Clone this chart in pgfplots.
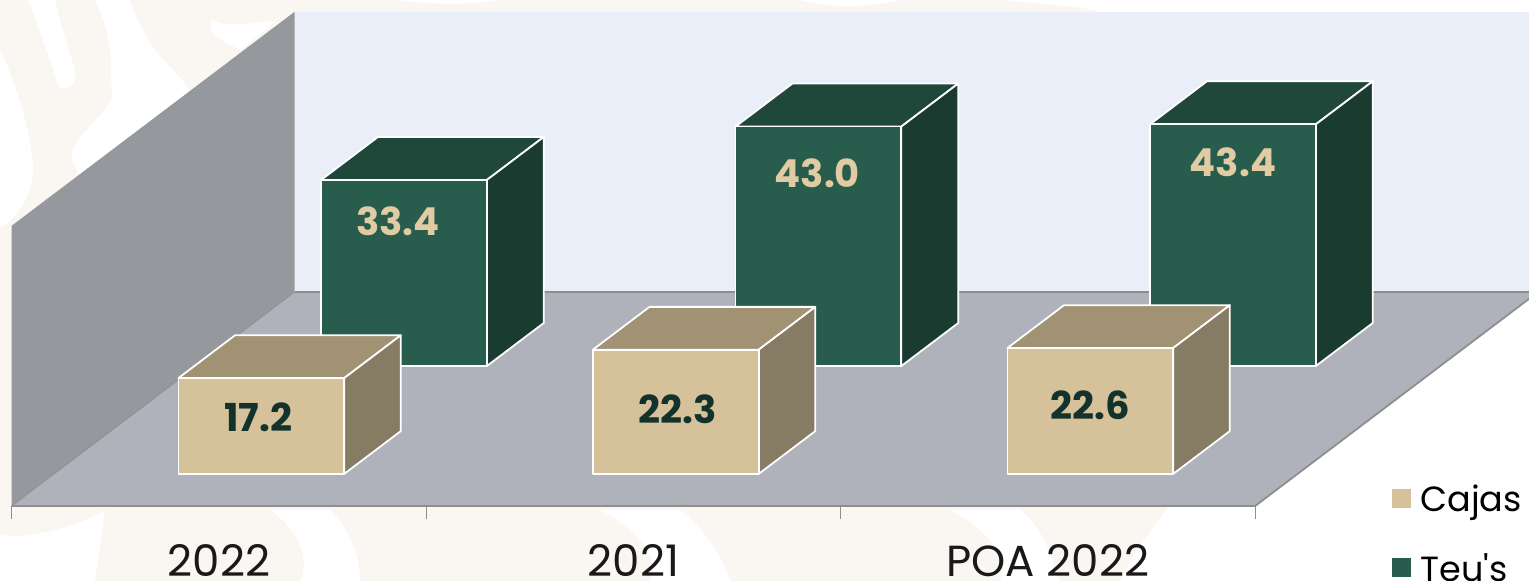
\documentclass[border=0pt]{standalone}
\usepackage{fontspec}
\setmainfont{Poppins}
\newfontfamily\plainfont{Poppins}
\usepackage{pgfplots}
\pgfplotsset{compat=1.18}
\definecolor{cream}{HTML}{FAF7F2}
\definecolor{backw}{HTML}{EAEEF9}
\definecolor{leftw}{HTML}{95989C}
\definecolor{floorw}{HTML}{AFB2BA}
\definecolor{edgeg}{HTML}{8E8E8E}
\definecolor{tanF}{HTML}{D5C19A}
\definecolor{tanT}{HTML}{A09272}
\definecolor{tanS}{HTML}{867B63}
\definecolor{grnF}{HTML}{285C4D}
\definecolor{grnT}{HTML}{1F483B}
\definecolor{grnS}{HTML}{1A3B30}
\definecolor{lblT}{HTML}{E0CBA3}
\definecolor{lblD}{HTML}{13322B}
\begin{document}
\begin{tikzpicture}[x=1pt,y=1pt]
\useasboundingbox (0,0) rectangle (1529,581);
\clip (0,0) rectangle (1529,581);
% faint background ornament
\begin{scope}[yscale=-1,yshift=-581pt]
\fill[cream] (0,0) -- (1000,0) .. controls (1060,5) and (1090,8) .. (1100,12) -- (300,300) -- (1170,506) .. controls (1150,530) and (1130,560) .. (1120,581) -- (0,581) -- cycle;
\fill[white] (95,0) .. controls (115,40) and (110,70) .. (112,100) .. controls (95,125) and (70,140) .. (72,160) -- (80,178) -- (190,92) .. controls (180,70) and (150,60) .. (130,0) -- cycle;
\fill[white] (28,0) .. controls (40,30) and (50,60) .. (58,85) .. controls (70,95) and (80,80) .. (72,60) .. controls (65,40) and (60,20) .. (55,0) -- cycle;
\fill[white] (0,50) .. controls (15,80) and (30,130) .. (33,165) .. controls (33,195) and (20,215) .. (0,228) -- cycle;
\fill[white] (212,20) .. controls (235,30) and (255,20) .. (275,22) -- (240,50) .. controls (225,42) and (205,35) .. (212,20) -- cycle;
\fill[white] (0,535) .. controls (40,540) and (90,520) .. (105,510) -- (95,581) -- (0,581) -- cycle;
\fill[white] (270,510) .. controls (300,530) and (310,560) .. (300,581) -- (360,581) .. controls (360,550) and (345,525) .. (330,510) -- cycle;
\fill[white] (600,510) .. controls (640,530) and (660,560) .. (650,581) -- (730,581) .. controls (720,550) and (700,525) .. (680,510) -- cycle;
\fill[white] (950,510) .. controls (990,530) and (1010,560) .. (1000,581) -- (1060,581) .. controls (1050,550) and (1040,525) .. (1020,510) -- cycle;
\fill[white] (400,0) .. controls (430,5) and (470,5) .. (500,0) -- cycle;
\fill[white] (800,0) .. controls (830,8) and (870,8) .. (900,0) -- cycle;
\end{scope}
\begin{axis}[
  at={(11.6pt,75pt)}, anchor=origin,
  x={(414.5pt,0pt)}, y={(283pt,214pt)}, z={(0pt,5.57pt)},
  xmin=0, xmax=3, ymin=0, ymax=1, zmin=0, zmax=50.3,
  hide axis, clip=false,
  legend style={at={(0.9014,0.052)}, anchor=north west, draw=none, fill=none,
    font=\fontsize{35}{40}\selectfont, row sep=37pt,
    cells={anchor=west}},
]
\addlegendimage{area legend, draw=white, fill=tanF, line width=0.8pt,
  legend image code/.code={\draw[fill=tanF,draw=white] (0,-9.5pt) rectangle (20pt,10.5pt);}}
\addlegendentry{\hspace*{7pt}Cajas}
\addlegendimage{area legend, draw=white, fill=grnF, line width=0.8pt,
  legend image code/.code={\draw[fill=grnF,draw=white] (0,-9.5pt) rectangle (20pt,10.5pt);}}
\addlegendentry{\hspace*{7pt}{\plainfont Teu's}}
% chart walls and floor
\addplot3[forget plot, fill=backw, draw=none] coordinates {(0,1,0)(3,1,0)(3,1,50.3)(0,1,50.3)} -- cycle;
\addplot3[forget plot, fill=leftw, draw=none] coordinates {(0,0,0)(0,1,0)(0,1,50.3)(0,0,50.3)} -- cycle;
\addplot3[forget plot, fill=floorw, draw=none] coordinates {(0,0,0)(3,0,0)(3,1,0)(0,1,0)} -- cycle;
\addplot3[forget plot, draw=edgeg, line width=1.8pt] coordinates {(0,1,0)(3,1,0)(3,0,0)(0,0,0)};
\addplot3[forget plot, draw=edgeg, line width=0.8pt] coordinates {(0,0,0)(0,1,0)};
% tick marks
\foreach \t in {0,1,2,3}{
  \edef\temp{\noexpand\draw[edgeg,line width=1.2pt] (axis cs:\t,0,0) -- ++(0pt,-13pt);}\temp
}
% Teu's, back row: values 33.4, 43.0, 43.4
\pgfplotsset{face/.style={forget plot, draw=white, line width=1.8pt, line join=round}}
\addplot3[face, fill=grnT] coordinates {(0.3,0.654,33.4)(0.7,0.654,33.4)(0.7,0.855,33.4)(0.3,0.855,33.4)} -- cycle;
\addplot3[face, fill=grnS] coordinates {(0.7,0.654,0)(0.7,0.855,0)(0.7,0.855,33.4)(0.7,0.654,33.4)} -- cycle;
\addplot3[face, fill=grnF] coordinates {(0.3,0.654,0)(0.7,0.654,0)(0.7,0.654,33.4)(0.3,0.654,33.4)} -- cycle;
\addplot3[face, fill=grnT] coordinates {(1.3,0.654,43.0)(1.7,0.654,43.0)(1.7,0.855,43.0)(1.3,0.855,43.0)} -- cycle;
\addplot3[face, fill=grnS] coordinates {(1.7,0.654,0)(1.7,0.855,0)(1.7,0.855,43.0)(1.7,0.654,43.0)} -- cycle;
\addplot3[face, fill=grnF] coordinates {(1.3,0.654,0)(1.7,0.654,0)(1.7,0.654,43.0)(1.3,0.654,43.0)} -- cycle;
\addplot3[face, fill=grnT] coordinates {(2.3,0.654,43.4)(2.7,0.654,43.4)(2.7,0.855,43.4)(2.3,0.855,43.4)} -- cycle;
\addplot3[face, fill=grnS] coordinates {(2.7,0.654,0)(2.7,0.855,0)(2.7,0.855,43.4)(2.7,0.654,43.4)} -- cycle;
\addplot3[face, fill=grnF] coordinates {(2.3,0.654,0)(2.7,0.654,0)(2.7,0.654,43.4)(2.3,0.654,43.4)} -- cycle;
% Cajas, front row: values 17.2, 22.3, 22.6
\addplot3[face, fill=tanT] coordinates {(0.3,0.15,17.2)(0.7,0.15,17.2)(0.7,0.35,17.2)(0.3,0.35,17.2)} -- cycle;
\addplot3[face, fill=tanS] coordinates {(0.7,0.15,0)(0.7,0.35,0)(0.7,0.35,17.2)(0.7,0.15,17.2)} -- cycle;
\addplot3[face, fill=tanF] coordinates {(0.3,0.15,0)(0.7,0.15,0)(0.7,0.15,17.2)(0.3,0.15,17.2)} -- cycle;
\addplot3[face, fill=tanT] coordinates {(1.3,0.15,22.3)(1.7,0.15,22.3)(1.7,0.35,22.3)(1.3,0.35,22.3)} -- cycle;
\addplot3[face, fill=tanS] coordinates {(1.7,0.15,0)(1.7,0.35,0)(1.7,0.35,22.3)(1.7,0.15,22.3)} -- cycle;
\addplot3[face, fill=tanF] coordinates {(1.3,0.15,0)(1.7,0.15,0)(1.7,0.15,22.3)(1.3,0.15,22.3)} -- cycle;
\addplot3[face, fill=tanT] coordinates {(2.3,0.15,22.6)(2.7,0.15,22.6)(2.7,0.35,22.6)(2.3,0.35,22.6)} -- cycle;
\addplot3[face, fill=tanS] coordinates {(2.7,0.15,0)(2.7,0.35,0)(2.7,0.35,22.6)(2.7,0.15,22.6)} -- cycle;
\addplot3[face, fill=tanF] coordinates {(2.3,0.15,0)(2.7,0.15,0)(2.7,0.15,22.6)(2.3,0.15,22.6)} -- cycle;
% value labels
\tikzset{vall/.style={font=\fontsize{38.5}{44}\bfseries\selectfont, inner sep=0pt}}
\node[vall,text=lblD,xshift=-3pt,yshift=-39pt] at (axis cs:0.5,0.15,17.2) {17.2};
\node[vall,text=lblD,xshift=2pt,yshift=-60pt] at (axis cs:1.5,0.15,22.3) {22.3};
\node[vall,text=lblD,xshift=0pt,yshift=-57pt] at (axis cs:2.5,0.15,22.6) {22.6};
\node[vall,text=lblT,xshift=-6pt,yshift=-41pt] at (axis cs:0.5,0.654,33.4) {33.4};
\node[vall,text=lblT,xshift=-1pt,yshift=-47pt] at (axis cs:1.5,0.654,43.0) {43.0};
\node[vall,text=lblT,xshift=0pt,yshift=-38pt] at (axis cs:2.5,0.654,43.4) {43.4};
% category labels
\tikzset{catl/.style={font=\fontsize{43.5}{46}\selectfont, text=black!90, inner sep=0pt}}
\node[catl,yshift=-54.5pt] at (axis cs:0.5,0,0) {2022};
\node[catl,yshift=-54.5pt] at (axis cs:1.5,0,0) {2021};
\node[catl,yshift=-54.5pt] at (axis cs:2.5,0,0) {POA 2022};
\end{axis}
\end{tikzpicture}
\end{document}
